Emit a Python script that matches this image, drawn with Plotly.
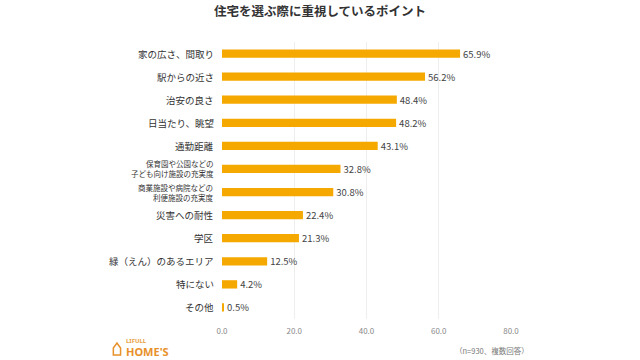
import plotly.graph_objects as go

categories = [
    "家の広さ、間取り",
    "駅からの近さ",
    "治安の良さ",
    "日当たり、眺望",
    "通勤距離",
    "保育園や公園などの<br>子ども向け施設の充実度",
    "商業施設や病院などの<br>利便施設の充実度",
    "災害への耐性",
    "学区",
    "緑（えん）のあるエリア",
    "特にない",
    "その他",
]
values = [65.9, 56.2, 48.4, 48.2, 43.1, 32.8, 30.8, 22.4, 21.3, 12.5, 4.2, 0.5]
tick_vals = [0, 20, 40, 60, 80]
tick_text = ["0.0", "20.0", "40.0", "60.0", "80.0"]

font_family = "Noto Sans CJK JP, Noto Sans, sans-serif"
bar_color = "#F5A800"

fig = go.Figure(go.Bar(
    x=values,
    y=categories,
    orientation="h",
    marker=dict(color=bar_color, line=dict(width=0)),
    width=0.36,
    text=[f"{v:.1f}%" for v in values],
    textposition="outside",
    constraintext="none",
    textfont=dict(size=9.5, color="#444444", family=font_family),
    cliponaxis=False,
    hoverinfo="skip",
))

fig.update_layout(
    width=640, height=360,
    paper_bgcolor="#ffffff",
    plot_bgcolor="#ffffff",
    margin=dict(l=222, r=129, t=42, b=41),
    font=dict(family=font_family, color="#333333"),
    title=dict(text="<b>住宅を選ぶ際に重視しているポイント</b>", x=0.5, xanchor="center",
               y=0.967, yanchor="middle", font=dict(size=12.5, color="#333333")),
    showlegend=False,
    xaxis=dict(range=[0, 80], tickvals=tick_vals, ticktext=tick_text,
               showgrid=True, gridcolor="#EEEEEE", gridwidth=1, zeroline=False,
               showline=False, ticks="", tickfont=dict(size=8, color="#888888"),
               ticklabelstandoff=6),
    yaxis=dict(autorange="reversed", showgrid=False, zeroline=False, showline=False,
               ticks="", showticklabels=False),
)

for c in categories:
    two = "<br>" in c
    fig.add_annotation(text=c, xref="paper", yref="y", x=0, y=c,
                       xanchor="right", yanchor="middle", xshift=-6, showarrow=False,
                       align="right",
                       font=dict(size=7.5 if two else 9.5, color="#333333"))

# footnote
fig.add_annotation(text="（n=930、複数回答）", xref="paper", yref="paper",
                   x=1.07, y=-0.115, xanchor="right", yanchor="middle",
                   showarrow=False, font=dict(size=7.5, color="#777777"))
# logo
fig.add_annotation(text="<b>LIFULL</b>", xref="paper", yref="paper",
                   x=-0.338, y=-0.08, xanchor="left", yanchor="middle", showarrow=False,
                   font=dict(size=6, color="#E8A040", family="Noto Sans"))
fig.add_annotation(text="<b>HOME'S</b>", xref="paper", yref="paper",
                   x=-0.338, y=-0.118, xanchor="left", yanchor="middle", showarrow=False,
                   font=dict(size=11, color="#E8902A", family="Noto Sans"))
fig.add_shape(type="path", xref="paper", yref="paper",
              path="M -0.376 -0.13 L -0.376 -0.105 L -0.3635 -0.087 L -0.351 -0.105 L -0.351 -0.13 Z",
              line=dict(color="#E8902A", width=1.5), fillcolor="rgba(0,0,0,0)")

fig.write_html("out.html", config={"displayModeBar": False},
               post_script="document.body.style.margin='0';")
